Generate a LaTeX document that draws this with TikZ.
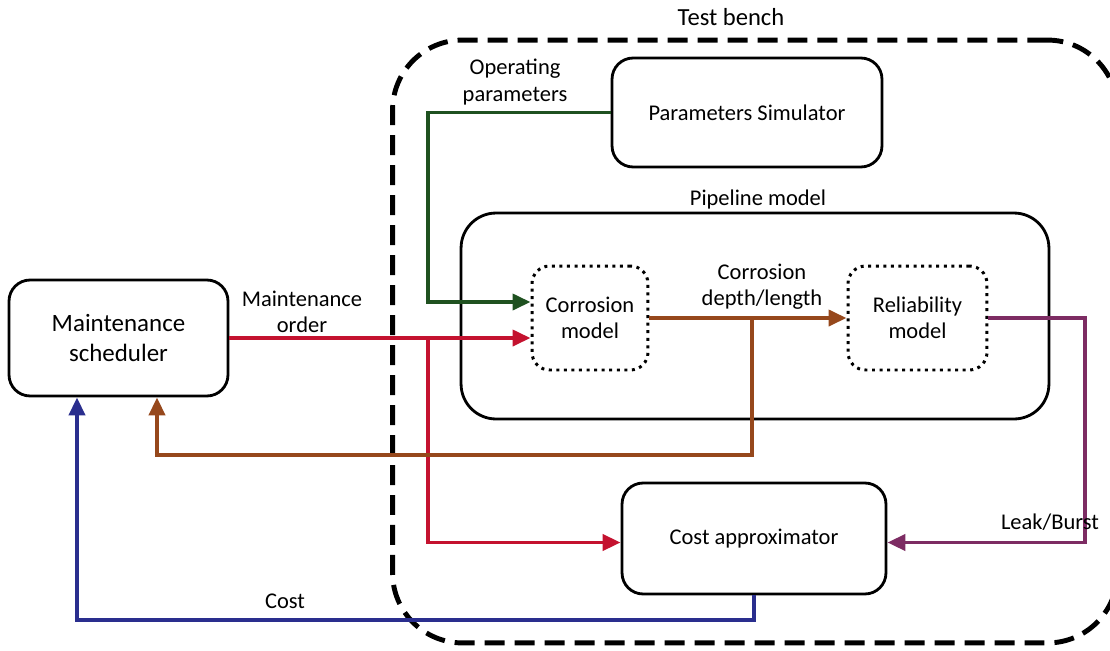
\documentclass[tikz,border=0pt]{standalone}
\usepackage{fontspec}
\setmainfont{Carlito}
\usetikzlibrary{arrows.meta,positioning,calc}
\usepackage{xcolor}
\definecolor{tbGreen}{HTML}{1F5120}
\definecolor{tbRed}{HTML}{C4122F}
\definecolor{tbBrown}{HTML}{96481C}
\definecolor{tbPurple}{HTML}{7D2C63}
\definecolor{tbBlue}{HTML}{2A2E8E}

\begin{document}
\begin{tikzpicture}[x=0.02cm, y=-0.02cm,
  font=\fontsize{12.8}{15}\selectfont,
  blk/.style={draw, line width=1.6pt, rounded corners=12pt, align=center},
  sub/.style={draw, line width=1.7pt, dash pattern=on 1.7pt off 2.6pt, rounded corners=10pt, align=center},
  bench/.style={draw, line width=2.8pt, dash pattern=on 0.4cm off 0.2cm, rounded corners=1.4cm},
  flow/.style={line width=2.2pt, -{Triangle[length=3.6mm, width=3.2mm]}},
  lab/.style={align=center, inner sep=1pt}]
\useasboundingbox (0,0) rectangle (1110,650);
% containers
\node[bench, minimum width=14.5cm, minimum height=12.06cm] (tb) at (755,341.5) {};
\node[lab, font=\fontsize{14}{16}\selectfont] (tblab) at (731,17) {Test bench};
\node[blk, minimum width=11.76cm, minimum height=4.12cm, rounded corners=0.7cm] (pipe) at (755,316) {};
\node[lab] (pipelab) at (758,199) {Pipeline model};
% blocks
\node[blk, minimum width=4.38cm, minimum height=2.32cm, font=\fontsize{14.2}{17}\selectfont] (sched) at (118.5,338) {Maintenance\\scheduler};
\node[blk, minimum width=5.4cm, minimum height=2.18cm] (psim) at (747,112.5) {Parameters Simulator};
\node[sub, minimum width=2.32cm, minimum height=2.08cm] (corr) at (590,318) {Corrosion\\model};
\node[sub, minimum width=2.78cm, minimum height=2.08cm] (rel) at (917.5,318) {Reliability\\model};
\node[blk, minimum width=5.28cm, minimum height=2.22cm] (cost) at (754,538.5) {Cost approximator};
% bends
\coordinate (opbend) at (428,302);
\coordinate (mojn) at (428,338);
\coordinate (cdjn) at (752,318);
\coordinate (fbk) at (157,455);
\coordinate (lbc) at (1085,318);
\coordinate (cstc) at (77,620);
% connectors
\draw[flow, tbGreen] (psim.west) -| (opbend) -- (opbend -| corr.west);
\draw[flow, tbRed] (sched.east) -- (sched.east -| corr.west);
\draw[flow, tbRed] (mojn) |- ($(cost.west)+(0,4)$);
\draw[flow, tbBrown] (corr.east) -- (rel.west);
\draw[flow, tbBrown] (cdjn) |- (fbk) -- (fbk |- sched.south);
\draw[flow, tbPurple] (rel.east) -- (lbc) |- ($(cost.east)+(0,4)$);
\draw[flow, tbBlue] (cost.south) |- (cstc) -- (cstc |- sched.south);
% labels
\node[lab] (oplab) at (515,82) {Operating\\parameters};
\node[lab] (molab) at (302,312) {Maintenance\\order};
\node[lab] (cdlab) at (762,287) {Corrosion\\depth/length};
\node[lab] (lblab) at (1050,522) {Leak/Burst};
\node[lab] (cstlab) at (285,601) {Cost};
\end{tikzpicture}
\end{document}
